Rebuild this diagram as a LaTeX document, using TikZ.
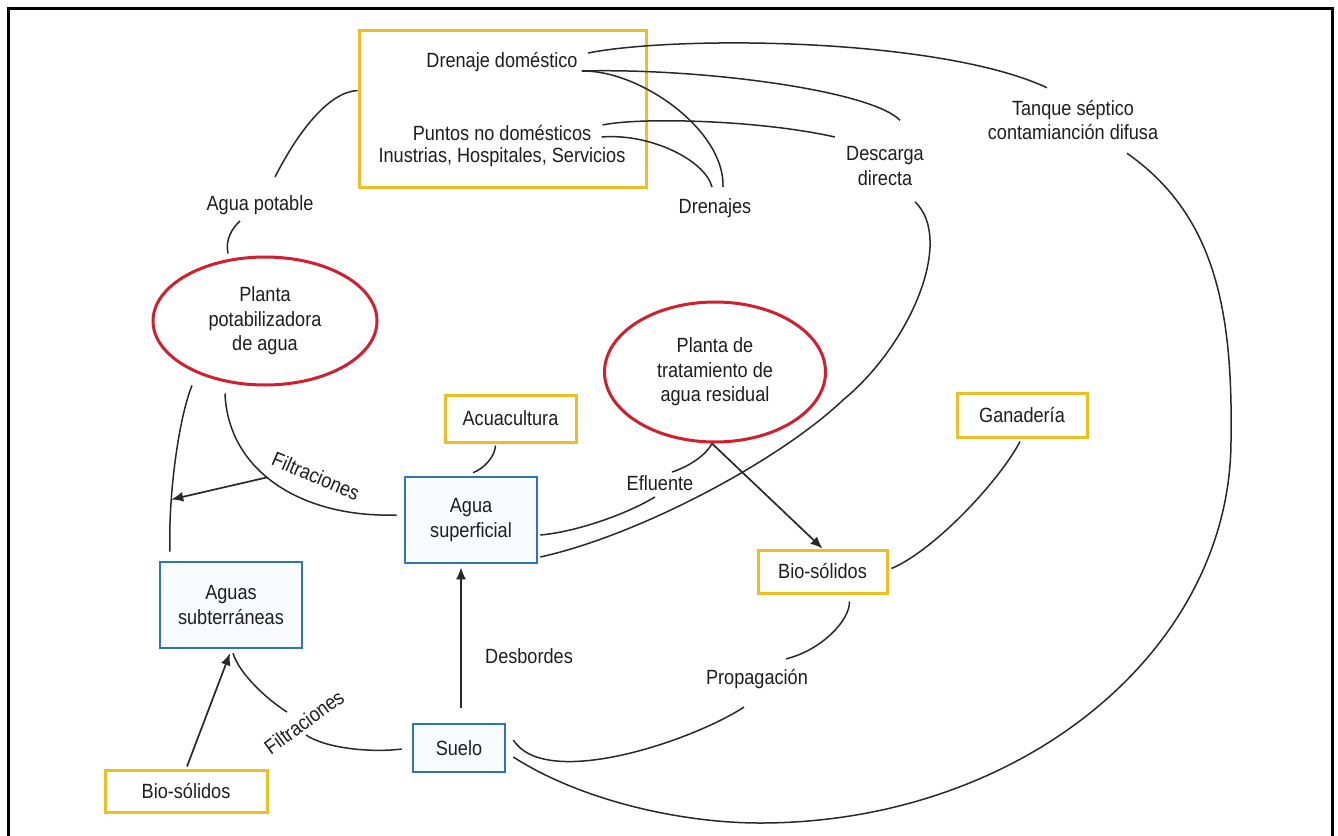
\documentclass[tikz,border=0pt]{standalone}
\usepackage{fontspec}
\setmainfont{Liberation Sans}[FakeStretch=0.88]
\usepackage{xcolor}
\usetikzlibrary{shapes.geometric,arrows.meta}
\definecolor{boxyellow}{RGB}{240,190,35}
\definecolor{boxblue}{RGB}{46,117,182}
\definecolor{ellred}{RGB}{210,30,45}
\definecolor{linegray}{RGB}{40,40,40}
\definecolor{txtgray}{RGB}{30,30,30}
\definecolor{bluefill}{RGB}{248,251,255}

\begin{document}
\begin{tikzpicture}[x=0.5pt, y=-0.5pt,
  every node/.style={font=\fontsize{10.3}{12.2}\selectfont, text=txtgray, align=center, inner sep=0pt},
  ybox/.style={draw=boxyellow, line width=1.5pt, fill=white, rectangle},
  bbox/.style={draw=boxblue, line width=1.3pt, fill=bluefill, rectangle},
  rell/.style={draw=ellred, line width=1.5pt, fill=white, ellipse},
  conn/.style={draw=linegray, line width=0.75pt},
  arr/.style={draw=linegray, line width=0.85pt, -{Latex[length=6pt,width=5pt]}}]

\useasboundingbox (0,0) rectangle (1338,835);
\draw[line width=1.5pt] (8.5,845) -- (8.5,8) -- (1332,8) -- (1332,845);

% Sources at the top
\node[ybox, minimum width=143.5pt, minimum height=78.5pt] (dombox) at (502.5,108.5) {};
\node (drendom) at (502,62) {Drenaje doméstico};
\node (puntos) at (502,133) {Puntos no domésticos};
\node (industr) at (502,157) {Inustrias, Hospitales, Servicios};

% Labels
\node (agpot) at (260,205) {Agua potable};
\node (drenj) at (715,208) {Drenajes};
\node (desc) at (885,166) {Descarga\\directa};
\node (tanque) at (1073,120) {Tanque séptico\\contamianción difusa};
\node[rotate=-23] (filt1) at (316,476) {Filtraciones};
\node (eflu) at (660,483) {Efluente};
\node (desb) at (529,656) {Desbordes};
\node (prop) at (757,679) {Propagación};
\node[rotate=36] (filt2) at (304,722) {Filtraciones};

% Plants
\node[rell, minimum width=112pt, minimum height=64pt] (pplant) at (265,321) {Planta\\potabilizadora\\de agua};
\node[rell, minimum width=110.5pt, minimum height=70pt] (wplant) at (715,372) {Planta de\\tratamiento de\\agua residual};

% Boxes
\node[ybox, minimum width=65.5pt, minimum height=23.5pt] (acua) at (510.5,418.5) {Acuacultura};
\node[ybox, minimum width=65pt, minimum height=22pt] (ganad) at (1022,415) {Ganadería};
\node[ybox, minimum width=64.5pt, minimum height=21.5pt] (biosR) at (822.5,571.5) {Bio-sólidos};
\node[ybox, minimum width=81pt, minimum height=21pt] (biosL) at (186,791) {Bio-sólidos};
\node[bbox, minimum width=66pt, minimum height=43pt] (aguasup) at (471,520) {Agua\\superficial};
\node[bbox, minimum width=71pt, minimum height=43pt] (aguasub) at (231,605) {Aguas\\subterráneas};
\node[bbox, minimum width=46pt, minimum height=24pt] (suelo) at (459,748) {Suelo};

% Connectors from the sources
\draw[conn] ([shift={(0,-18)}]dombox.west) .. controls (330,92) and (300,128) .. ([shift={(15,-18)}]agpot.north);
\draw[conn] ([shift={(-20,6)}]agpot.south) .. controls (232,228) and (225,240) .. ([shift={(-37,-2)}]pplant.north);
\draw[conn] ([shift={(10,-9)}]drendom.east) .. controls (680,35) and (940,38) .. ([shift={(-26,-12)}]tanque.north);
\draw[conn] ([shift={(4,9)}]drendom.east) .. controls (700,68) and (870,90) .. ([shift={(15,-26)}]desc.north);
\draw[conn] ([shift={(4,9)}]drendom.east) .. controls (640,70) and (725,130) .. ([shift={(8,-11)}]drenj.north);
\draw[conn] ([shift={(11,-8)}]puntos.east) .. controls (640,117) and (760,120) .. ([shift={(-11,-29)}]desc.west);
\draw[conn] ([shift={(10,4)}]puntos.east) .. controls (650,133) and (705,160) .. ([shift={(-3,-11)}]drenj.north);

% Left side
\draw[conn] ([shift={(-73,-1)}]pplant.south) .. controls (178,420) and (168,500) .. ([shift={(-61,-9)}]aguasub.north) coordinate[pos=0.7] (filttip);
\draw[conn] ([shift={(-40,7)}]pplant.south) .. controls (228,470) and (300,518) .. ([shift={(-7,-5)}]aguasup.west) coordinate[pos=0.45] (filtsrc);
\draw[arr] (filtsrc) -- (filttip);
\draw[conn] ([shift={(-15,2)}]acua.south) .. controls (495,456) and (485,468) .. ([shift={(2,-3)}]aguasup.north);

% Surface water
\draw[conn] ([shift={(2,15)}]aguasup.east) .. controls (575,532) and (625,515) .. ([shift={(-5,6)}]eflu.south);
\draw[conn] ([shift={(12,-3)}]eflu.north) .. controls (690,466) and (706,455) .. ([shift={(-3,0)}]wplant.south);
\draw[conn] ([shift={(2,37)}]aguasup.east) .. controls (640,535) and (780,460) .. (843,400) .. controls (910,345) and (955,240) .. ([shift={(30,16)}]desc.south);
\draw[arr] ([shift={(-3,0)}]wplant.south) -- (biosR.north);
\draw[conn] ([shift={(-2,3)}]ganad.south) .. controls (1000,480) and (935,550) .. ([shift={(3,-3)}]biosR.east);
\draw[conn] ([shift={(27,7)}]biosR.south) .. controls (850,620) and (822,650) .. ([shift={(29,-10)}]prop.north);

% Soil
\draw[conn] ([shift={(-13,18)}]prop.south) .. controls (690,742) and (545,790) .. ([shift={(7,-8)}]suelo.east);
\draw[conn] ([shift={(7,9)}]suelo.east) .. controls (580,800) and (680,823) .. (760,823) .. controls (1020,823) and (1231,651) .. (1231,440) .. controls (1233,310) and (1215,215) .. ([shift={(54,13)}]tanque.south);
\draw[arr] ([shift={(2,-15)}]suelo.north) -- ([shift={(-10,3)}]aguasup.south);
\draw[conn] ([shift={(-10,1)}]suelo.west) .. controls (370,753) and (325,748) .. ([shift={(2,13)}]filt2.center);
\draw[conn] ([shift={(-17,-10)}]filt2.center) .. controls (268,700) and (240,675) .. ([shift={(2,4)}]aguasub.south);
\draw[arr] ([shift={(1,-2)}]biosL.north) -- ([shift={(-1,4)}]aguasub.south);

\end{tikzpicture}
\end{document}
